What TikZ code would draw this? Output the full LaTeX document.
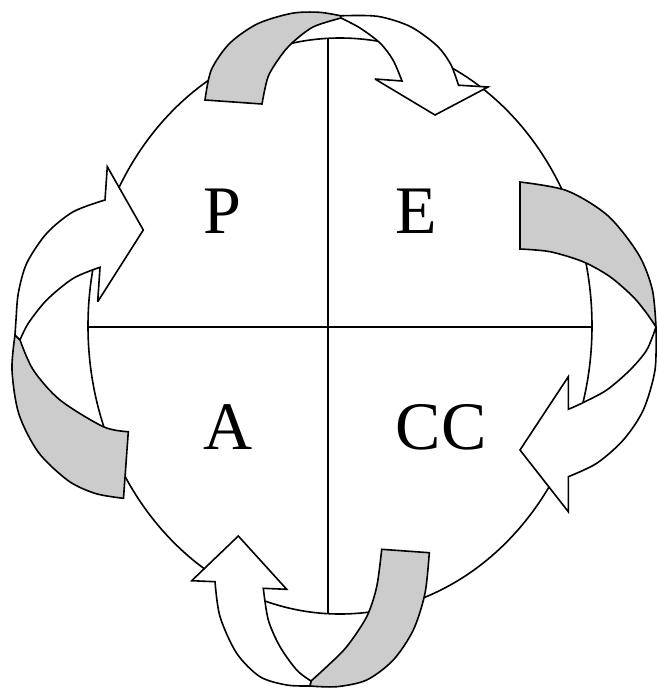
\documentclass[tikz,border=0pt]{standalone}
\usepackage{fontspec}
\setmainfont{Liberation Serif}
\begin{document}
\begin{tikzpicture}[x=1pt,y=-1pt,line width=1.6pt]
\tikzset{
  arrowface/.style={draw=black,fill=white,line join=miter,miter limit=4},
  arrowback/.style={draw=black,fill=black!20,line join=miter,miter limit=4},
  lbl/.style={font=\fontsize{68}{68}\selectfont,inner sep=0pt,anchor=base}
}
\useasboundingbox (0,0) rectangle (657,689);
% main ellipse and quadrant lines
\draw (340,326) ellipse [x radius=252pt, y radius=288pt];
\coordinate (vt) at (328,38);
\coordinate (vb) at (328,614);
\coordinate (hl) at (89,327);
\coordinate (hr) at (592,327);
\draw (vt) -- (vb);
\draw (hl) -- (hr);
% top arrow
\path[arrowback] plot[smooth] coordinates {(205,100) (211.3,69.9) (229.6,43.4) (257.5,23.8) (291.8,13.3) (319.2,12.3) (340.7,15.8)}
  -- (341,18) -- plot[smooth] coordinates {(341,18) (313,27) (292,43) (280,57) (268,77) (262,104)} -- cycle;
\path[arrowface] plot[smooth] coordinates {(340.7,15.8) (377.4,16.3) (410,26.4) (436.6,45.4) (450.6,64.1) (458.5,85.2)}
  -- (488,87) -- (435,115) -- (375,79) -- (402,81)
  -- plot[smooth] coordinates {(402,81) (393,60) (380,43) (360,28) (341,18)} -- cycle;
% right arrow
\path[arrowback] plot[smooth] coordinates {(520,182) (566.9,190.7) (608.1,215.9) (638.6,254.5) (652.3,289.5) (656,327)}
  -- plot[smooth] coordinates {(656,327) (646.7,313.3) (633,296.7) (610,276.7) (583,261.7) (550,251.7) (520,249)} -- cycle;
\path[arrowface] plot[smooth] coordinates {(656,327) (655,370) (643.3,410) (623.3,440) (596.7,463.3) (568.3,476.7)}
  -- (568.3,511.7) -- (520,450) -- (568.3,376.7) -- (568.3,409.3)
  -- plot[smooth] coordinates {(568.3,409.3) (581.7,403.3) (606.7,390) (630,370) (646.7,350) (656,327)} -- cycle;
% left arrow
\path[arrowback] plot[smooth] coordinates {(15,335) (12,370) (18.8,413.8) (38.4,452.3) (68.5,480.9) (95.8,493.6) (123.5,498.3)}
  -- (128.3,431.7) -- plot[smooth] coordinates {(128.3,431.7) (103.3,426.7) (60,400) (33.3,370) (20,340)} -- cycle;
\path[arrowface] plot[smooth] coordinates {(105,200) (73.3,211.7) (46.7,233.3) (26.7,263.3) (18.3,293.3) (16,320) (15,335)}
  -- (20,340) -- plot[smooth] coordinates {(20,340) (28.3,323.3) (46.7,300) (73.3,278.3) (100,267.3)}
  -- (97.7,301.7) -- (143.3,230) -- (107.3,166.7) -- cycle;
% bottom arrow
\path[arrowback] plot[smooth] coordinates {(310,686) (336.7,686.7) (366.7,680) (393.3,660) (413.3,630) (425,593.3) (429.3,552.7)}
  -- (381.7,549.3) -- plot[smooth] coordinates {(381.7,549.3) (376.7,586.7) (366.7,616.7) (346.7,646.7) (326.7,666.7) (311,681)} -- cycle;
\path[arrowface] plot[smooth] coordinates {(215,581.7) (220,616.7) (236.7,653.3) (260,676.7) (286.7,685) (310,686)}
  -- (311,681) -- plot[smooth] coordinates {(311,681) (296.7,670) (280,646.7) (268.3,620) (263.3,588.3)}
  -- (286.7,589.3) -- (238.3,536) -- (191.7,580.7) -- cycle;
% labels
\node[lbl] (P) at (222,233) {P};
\node[lbl] (E) at (416,233) {E};
\node[lbl] (A) at (228,449) {A};
\node[lbl] (CC) at (441,449) {CC};
\end{tikzpicture}
\end{document}
